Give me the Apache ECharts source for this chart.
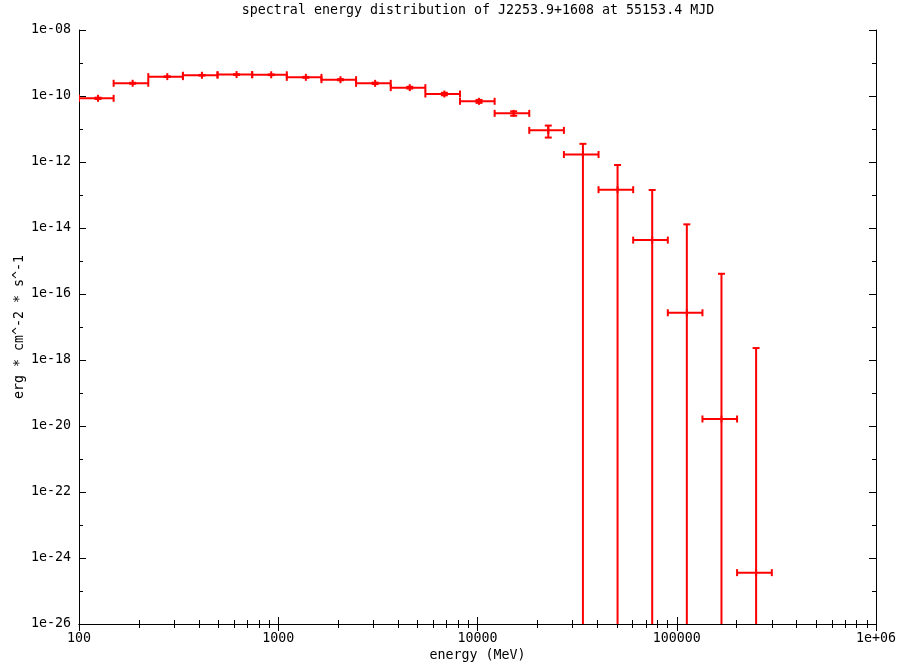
<!DOCTYPE html>
<html><head><meta charset="utf-8">
<script src="https://cdn.jsdelivr.net/npm/echarts@6/dist/echarts.min.js"></script>
<style>html,body{margin:0;padding:0;background:#fff}#c{width:904px;height:671px}</style>
</head><body><div id="c"></div>
<script>
// Bin centre energies (MeV), bin edges, and E^2 dN/dE values (erg cm^-2 s^-1)
const energy = [124.6, 185.9, 277.4, 414.0, 617.8, 921.8, 1375.6, 2052.6, 3063, 4571, 6820, 10177, 15187, 22662, 33816, 50460, 75297, 112358, 167661, 250186];
const binLow = [100, 149.2, 222.7, 332.3, 495.8, 739.9, 1104, 1647.5, 2458, 3669, 5474, 8169, 12189, 18189, 27142, 40501, 60436, 90184, 134573, 200811];
const binHigh = [149.2, 222.7, 332.3, 495.8, 739.9, 1104, 1647.5, 2458, 3669, 5474, 8169, 12189, 18189, 27142, 40501, 60436, 90184, 134573, 200811, 300000];
const flux = [8.5e-11, 2.43e-10, 3.86e-10, 4.25e-10, 4.46e-10, 4.4e-10, 3.68e-10, 3.12e-10, 2.42e-10, 1.79e-10, 1.15e-10, 6.9e-11, 2.98e-11, 9.1e-12, 1.69e-12, 1.45e-13, 4.3e-15, 2.7e-17, 1.63e-20, 3.6e-25];
const fluxUp = [8.9e-11, 2.51e-10, 3.96e-10, 4.35e-10, 4.57e-10, 4.51e-10, 3.8e-10, 3.24e-10, 2.54e-10, 1.9e-10, 1.25e-10, 7.6e-11, 3.43e-11, 1.27e-11, 3.55e-12, 8.1e-13, 1.42e-13, 1.29e-14, 4.1e-16, 2.3e-18];
// null: lower error reaches zero (bar runs to the bottom of the log axis)
const fluxLow = [8.1e-11, 2.35e-10, 3.76e-10, 4.15e-10, 4.35e-10, 4.29e-10, 3.56e-10, 3.0e-10, 2.3e-10, 1.68e-10, 1.05e-10, 6.2e-11, 2.53e-11, 5.5e-12, null, null, null, null, null, null];

const xMinorTicks = [];
[100, 1000, 10000, 100000].forEach(d => { for (let m = 2; m <= 9; m++) xMinorTicks.push(m * d); });
const yMajorTicks = [1e-26, 1e-24, 1e-22, 1e-20, 1e-18, 1e-16, 1e-14, 1e-12, 1e-10, 1e-8];
const yMinorTicks = [1e-9, 1e-11, 1e-13, 1e-15, 1e-17, 1e-19, 1e-21, 1e-23, 1e-25];

const FONT = 'DejaVu Sans Mono';
const FS = 13.3;
const chart = echarts.init(document.getElementById('c'), null, {renderer: 'canvas'});

const xFmt = v => v >= 1e6 ? '1e+06' : String(Math.round(v));
const yFmt = v => { const e = Math.round(Math.log10(v)); return '1e' + (e < 0 ? '-' : '+') + String(Math.abs(e)).padStart(2, '0'); };

function xAx(pos, major, extra) {
  return Object.assign({
    type: 'log', logBase: 10, min: 100, max: 1e6, position: pos, gridIndex: 0,
    axisLine: {show: major, lineStyle: {color: '#000', width: 1}},
    splitLine: {show: false}, minorTick: {show: false},
    axisLabel: {show: false},
  }, extra);
}
function yAx(pos, major, extra) {
  return Object.assign({
    type: 'log', logBase: 10, min: 1e-26, max: 1e-8, position: pos, gridIndex: 0,
    axisLine: {show: major, lineStyle: {color: '#000', width: 1}},
    splitLine: {show: false}, minorTick: {show: false},
    axisLabel: {show: false},
  }, extra);
}

const errData = energy.map((e, i) => [e, flux[i], binLow[i], binHigh[i], fluxLow[i] == null ? '-' : fluxLow[i], fluxUp[i]]);

chart.setOption({
  animation: false,
  backgroundColor: '#fff',
  title: {
    text: 'spectral energy distribution of J2253.9+1608 at 55153.4 MJD',
    left: 478, top: 4, textAlign: 'center', padding: 0,
    textStyle: {fontFamily: FONT, fontSize: FS, fontWeight: 'normal', color: '#000'}
  },
  grid: {left: 79, right: 28, top: 30, bottom: 47, containLabel: false, outerBoundsMode: 'none'},
  xAxis: [
    xAx('bottom', true, {
      interval: 1,
      axisTick: {show: true, inside: true, length: 7, lineStyle: {color: '#000'}},
      axisLabel: {show: true, formatter: xFmt, margin: 8, fontFamily: FONT, fontSize: FS, color: '#000', showMinLabel: true, showMaxLabel: true},
      name: 'energy (MeV)', nameLocation: 'middle', nameGap: 25, nameMoveOverlap: false,
      nameTextStyle: {fontFamily: FONT, fontSize: FS, color: '#000'}
    }),
    xAx('bottom', false, {axisTick: {show: true, inside: true, length: 4, customValues: xMinorTicks, lineStyle: {color: '#000'}}}),
    xAx('top', true, {interval: 1, axisTick: {show: true, inside: true, length: 7, lineStyle: {color: '#000'}}}),
    xAx('top', false, {axisTick: {show: true, inside: true, length: 4, customValues: xMinorTicks, lineStyle: {color: '#000'}}})
  ],
  yAxis: [
    yAx('left', true, {
      interval: 2,
      axisTick: {show: true, inside: true, length: 7, lineStyle: {color: '#000'}},
      name: 'erg * cm^-2 * s^-1', nameLocation: 'middle', nameGap: 53, nameRotate: 90, nameMoveOverlap: false,
      nameTextStyle: {fontFamily: FONT, fontSize: FS, color: '#000'}
    }),
    yAx('left', false, {
      axisTick: {show: true, inside: true, length: 4, customValues: yMinorTicks, lineStyle: {color: '#000'}},
      axisLabel: {show: true, customValues: yMajorTicks, formatter: yFmt, margin: 8, fontFamily: FONT, fontSize: FS, color: '#000', showMinLabel: true, showMaxLabel: true, hideOverlap: false}
    }),
    yAx('right', true, {interval: 2, axisTick: {show: true, inside: true, length: 7, lineStyle: {color: '#000'}}}),
    yAx('right', false, {axisTick: {show: true, inside: true, length: 4, customValues: yMinorTicks, lineStyle: {color: '#000'}}})
  ],
  series: [{
    type: 'custom', xAxisIndex: 0, yAxisIndex: 0, clip: true,
    data: errData,
    renderItem(params, api) {
      const cs = params.coordSys;
      const p = api.coord([api.value(0), api.value(1)]);
      const pl = api.coord([api.value(2), api.value(1)]);
      const ph = api.coord([api.value(3), api.value(1)]);
      const up = api.coord([api.value(0), api.value(5)]);
      const lv = api.value(4);
      const hasLow = !(lv == null || isNaN(lv));
      const lowY = hasLow ? api.coord([api.value(0), lv])[1] : cs.y + cs.height;
      const c = 3.5;
      const st = {stroke: '#ff0000', lineWidth: 2, fill: null};
      const L = (x1, y1, x2, y2) => ({type: 'line', shape: {x1, y1, x2, y2}, style: st});
      const ch = [
        L(pl[0], p[1], ph[0], p[1]),
        L(pl[0], p[1] - c, pl[0], p[1] + c),
        L(ph[0], p[1] - c, ph[0], p[1] + c),
        L(p[0], up[1], p[0], lowY),
        L(p[0] - c, up[1], p[0] + c, up[1]),
        L(p[0], p[1] - c, p[0], p[1] + c)
      ];
      if (hasLow) ch.push(L(p[0] - c, lowY, p[0] + c, lowY));
      return {type: 'group', children: ch};
    }
  }]
});
</script>
</body></html>
